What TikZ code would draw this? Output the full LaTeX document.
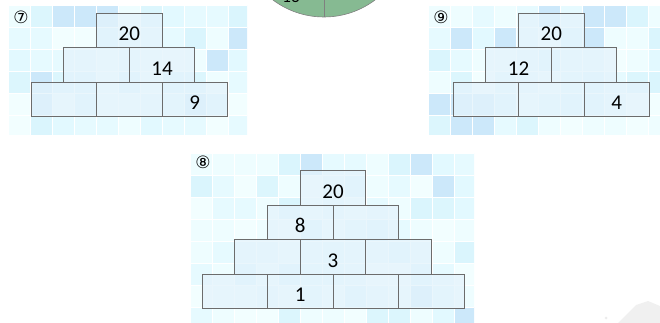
\documentclass[tikz,border=0pt]{standalone}
\usepackage{fontspec}
\setmainfont{Carlito}
\newfontfamily\symfont{DejaVu Sans}
\usepackage{tikz}
\usetikzlibrary{positioning}

\definecolor{tile0}{RGB}{238,253,255}
\definecolor{tile1}{RGB}{226,249,255}
\definecolor{tile2}{RGB}{238,253,255}
\definecolor{tile3}{RGB}{220,246,253}
\definecolor{tile4}{RGB}{230,250,255}
\definecolor{tile5}{RGB}{242,254,255}
\definecolor{tile6}{RGB}{204,232,250}
\definecolor{tile7}{RGB}{230,250,255}
\definecolor{tile8}{RGB}{218,245,253}
\definecolor{tile9}{RGB}{238,253,255}
\definecolor{brickfill}{RGB}{228,243,252}
\definecolor{disc}{RGB}{134,186,146}

\begin{document}
\begin{tikzpicture}[
  x=1pt, y=-1pt,
  brick/.style={draw=gray!85!black, line width=0.9pt, fill=brickfill, fill opacity=0.75, text opacity=1,
    minimum width=65.5pt, minimum height=34.5pt, inner sep=0pt, outer sep=0pt,
    text height=21pt, text depth=0pt, font=\fontsize{21}{22}\selectfont},
  tag/.style={font=\symfont\fontsize{17}{17}\selectfont, inner sep=0pt},
  tile/.style={draw=white, line width=0.5pt}
]
  \useasboundingbox (0,0) rectangle (660,323);
  \pgfmathsetseed{42}

  % tiled backgrounds
  \foreach \px/\py/\pw/\ph in {8/5/239/130, 428/5/232/130, 190/153/284/170} {
    \begin{scope}
      \clip (\px,\py) rectangle ++(\pw,\ph);
      \foreach \i in {0,...,12} \foreach \j in {0,...,7} {
        \pgfmathsetmacro\r{int(random(0,9))}
        \fill[tile\r, tile] (\px+22*\i,\py+22*\j) rectangle ++(22,22);
      }
    \end{scope}
  }

  % disc cut by the top edge
  \begin{scope}
    \clip (0,0) rectangle (660,323);
    \draw[gray, fill=disc, line width=0.6pt] (324,-68) circle (85);
    \draw[gray, line width=0.6pt] (324,-68) -- (324,17);
    \node[font=\rmfamily\fontsize{17}{17}\selectfont] (d13) at (291,-3) {13};
  \end{scope}

  % pyramid 7
  \node[tag] (t7) at (21,17) {⑦};
  \node[brick, anchor=north west] (p7b1) at (31,82) {};
  \node[brick, right=0pt of p7b1] (p7b2) {};
  \node[brick, right=0pt of p7b2] (p7b3) {9};
  \node[brick, anchor=south west] (p7m1) at (p7b1.north) {};
  \node[brick, right=0pt of p7m1] (p7m2) {14};
  \node[brick, anchor=south west] (p7t) at (p7m1.north) {20};

  % pyramid 9
  \node[tag] (t9) at (441,17) {⑨};
  \node[brick, anchor=north west] (p9b1) at (453,82) {};
  \node[brick, right=0pt of p9b1] (p9b2) {};
  \node[brick, right=0pt of p9b2] (p9b3) {4};
  \node[brick, anchor=south west] (p9m1) at (p9b1.north) {12};
  \node[brick, right=0pt of p9m1] (p9m2) {};
  \node[brick, anchor=south west] (p9t) at (p9m1.north) {20};

  % pyramid 8
  \node[tag] (t8) at (203,162) {⑧};
  \node[brick, anchor=north west] (p8b1) at (202,274) {};
  \node[brick, right=0pt of p8b1] (p8b2) {1};
  \node[brick, right=0pt of p8b2] (p8b3) {};
  \node[brick, right=0pt of p8b3] (p8b4) {};
  \node[brick, anchor=south west] (p8c1) at (p8b1.north) {};
  \node[brick, right=0pt of p8c1] (p8c2) {3};
  \node[brick, right=0pt of p8c2] (p8c3) {};
  \node[brick, anchor=south west] (p8m1) at (p8c1.north) {8};
  \node[brick, right=0pt of p8m1] (p8m2) {};
  \node[brick, anchor=south west] (p8t) at (p8m1.north) {20};

  % faint mark in the corner
  \fill[gray!12] (618,323) -- (636,305) -- (648,301) -- (660,306) -- (660,323) -- cycle;
  \fill[gray!15] (606,318) circle (1.5);
\end{tikzpicture}
\end{document}
